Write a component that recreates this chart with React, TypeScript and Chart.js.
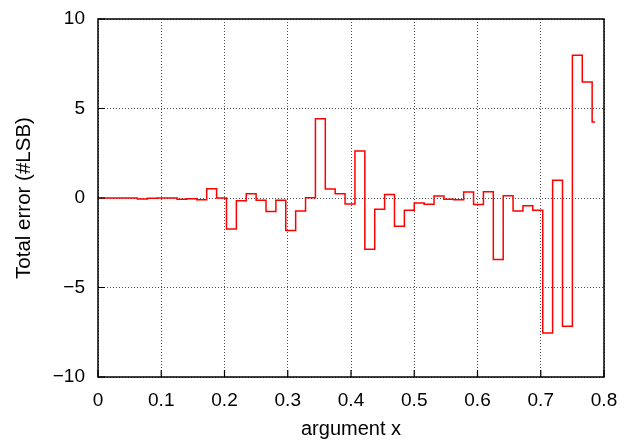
import React, { useEffect, useRef } from "react";
import { Chart, registerables } from "chart.js";

Chart.register(...registerables);

// Step values of the total error (#LSB), one per step of width STEP_WIDTH starting at x = 0
const STEP_VALUES: number[] = [
  0, 0, 0, 0, -0.05, -0.02, 0, 0, -0.07, -0.04,
  -0.1, 0.52, 0, -1.73, -0.15, 0.24, -0.13, -0.75, -0.13, -1.81,
  -0.73, 0.02, 4.43, 0.5, 0.24, -0.33, 2.63, -2.87, -0.63, 0.19,
  -1.58, -0.69, -0.28, -0.35, 0.11, -0.07, -0.1, 0.34, -0.37, 0.35,
  -3.44, 0.12, -0.72, -0.43, -0.69, -7.54, 0.99, -7.17, 7.97, 6.48,
  4.25,
];
const STEP_WIDTH = 1 / 64;
const X_END = 0.786;

const X_TICKS: number[] = [0, 0.1, 0.2, 0.3, 0.4, 0.5, 0.6, 0.7, 0.8];
const Y_TICKS: number[] = [-10, -5, 0, 5, 10];

const X_TITLE = "argument x";
const Y_TITLE = "Total error (#LSB)";

const FONT = "'Liberation Sans', Arial, Helvetica, sans-serif";

export default function App() {
  const ref = useRef<HTMLCanvasElement | null>(null);

  useEffect(() => {
    if (!ref.current) return;
    const points = STEP_VALUES.map((v, i) => ({ x: i * STEP_WIDTH, y: v }));
    points.push({ x: X_END, y: STEP_VALUES[STEP_VALUES.length - 1] });

    const framePlugin = {
      id: "frame",
      afterDraw(chart: any) {
        const { ctx, chartArea } = chart;
        const xs = chart.scales.x;
        const ys = chart.scales.y;
        ctx.save();
        ctx.strokeStyle = "#000";
        ctx.lineWidth = 1.5;
        ctx.setLineDash([]);
        ctx.strokeRect(
          chartArea.left,
          chartArea.top,
          chartArea.right - chartArea.left,
          chartArea.bottom - chartArea.top
        );
        ctx.lineWidth = 1.2;
        ctx.beginPath();
        X_TICKS.forEach((t) => {
          const px = xs.getPixelForValue(t);
          ctx.moveTo(px, chartArea.bottom);
          ctx.lineTo(px, chartArea.bottom - 7);
        });
        Y_TICKS.forEach((t) => {
          const py = ys.getPixelForValue(t);
          ctx.moveTo(chartArea.left, py);
          ctx.lineTo(chartArea.left + 7, py);
        });
        ctx.stroke();
        ctx.restore();
      },
    };

    const chart = new Chart(ref.current, {
      type: "line",
      data: {
        datasets: [
          {
            data: points,
            stepped: "before",
            borderColor: "rgb(255,0,0)",
            borderWidth: 1.5,
            pointRadius: 0,
            fill: false,
          },
        ],
      },
      options: {
        animation: false,
        responsive: false,
        layout: { padding: { left: 0, right: 27, top: 19, bottom: 0 } },
        plugins: { legend: { display: false }, tooltip: { enabled: false } },
        scales: {
          x: {
            type: "linear",
            min: 0,
            max: 0.8,
            afterFit: (s: any) => {
              s.height = 64;
              s.paddingLeft = 0;
              s.paddingRight = 0;
            },
            afterBuildTicks: (s: any) => {
              s.ticks = X_TICKS.map((v) => ({ value: v }));
            },
            ticks: {
              color: "#000",
              font: { family: FONT, size: 19 },
              padding: 12,
              maxRotation: 0,
              callback: (v: any) => String(Math.round(Number(v) * 10) / 10),
            },
            grid: { color: "rgba(0,0,0,0.7)", lineWidth: 1, drawTicks: false },
            border: { display: false, dash: [1, 2] },
            title: {
              display: true,
              text: X_TITLE,
              color: "#000",
              font: { family: FONT, size: 20 },
              padding: 0,
            },
          },
          y: {
            type: "linear",
            min: -10,
            max: 10,
            afterFit: (s: any) => {
              s.width = 98;
              s.paddingTop = 0;
              s.paddingBottom = 0;
            },
            afterBuildTicks: (s: any) => {
              s.ticks = Y_TICKS.map((v) => ({ value: v }));
            },
            ticks: {
              color: "#000",
              font: { family: FONT, size: 19 },
              padding: 13,
              callback: (v: any) => {
                const n = Number(v);
                return n < 0 ? "\u2212" + Math.abs(n) : String(n);
              },
            },
            grid: { color: "rgba(0,0,0,0.7)", lineWidth: 1, drawTicks: false },
            border: { display: false, dash: [1, 2] },
            title: {
              display: true,
              text: Y_TITLE,
              color: "#000",
              font: { family: FONT, size: 20.5 },
              padding: 12,
            },
          },
        },
      },
      plugins: [framePlugin],
    });
    return () => chart.destroy();
  }, []);

  return (
    <div style={{ position: "fixed", left: 0, top: 0, width: 631, height: 441, background: "#fff" }}>
      <canvas ref={ref} width={631} height={441} style={{ width: 631, height: 441 }} />
    </div>
  );
}
